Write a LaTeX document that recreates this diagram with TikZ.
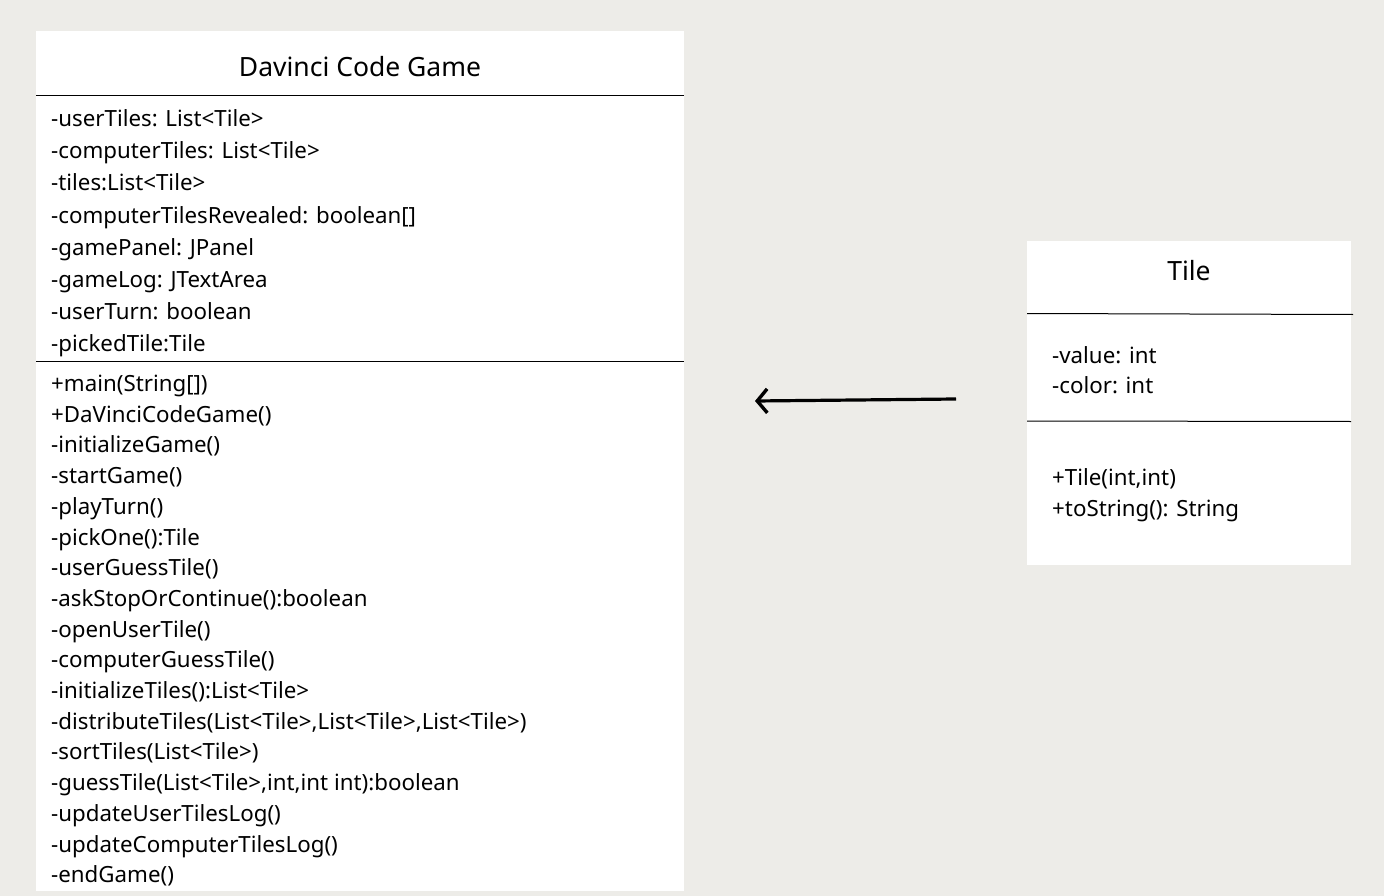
\documentclass[tikz,border=0pt]{standalone}
\usepackage{fontspec}
\setmainfont{Noto Sans}
\usetikzlibrary{arrows.meta}
\definecolor{bgc}{RGB}{237,236,232}
\tikzset{
  box/.style={fill=white,draw=none,anchor=north west,inner sep=0pt,outer sep=0pt},
  divider/.style={draw=black,line width=1pt},
  mem/.style={anchor=base west,inner sep=0pt,font=\fontsize{22.3}{26}\selectfont},
  ttl/.style={anchor=base,inner sep=0pt,font=\fontsize{26.5}{30}\selectfont},
  assoc/.style={line width=3.2pt,-{Straight Barb[length=10pt,width=24pt,line width=3.4pt]}}
}
\begin{document}
\begin{tikzpicture}[x=1pt,y=-1pt]
\fill[bgc] (0,0) rectangle (1384,896);
\useasboundingbox (0,0) rectangle (1384,896);
% main class
\node[box,minimum width=648pt,minimum height=860pt] (game) at (36,31) {};
\node[ttl] (gtitle) at (360,77) {Davinci Code Game};
\draw[divider] (game.north west |- 0,95.5) coordinate (g1a) -- (game.north east |- 0,95.5) coordinate (g1b);
\draw[divider] (game.north west |- 0,361.5) coordinate (g2a) -- (game.north east |- 0,361.5) coordinate (g2b);
\foreach \t [count=\i from 0] in {{-userTiles: List<Tile>},{-computerTiles: List<Tile>},{-tiles:List<Tile>},{-computerTilesRevealed: boolean[]},{-gamePanel: JPanel},{-gameLog: JTextArea},{-userTurn: boolean},{-pickedTile:Tile}}
  \node[mem] (ga\i) at (51,{127+32*\i}) {\t};
\foreach \t [count=\i from 0] in {{+main(String[])},{+DaVinciCodeGame()},{-initializeGame()},{-startGame()},{-playTurn()},{-pickOne():Tile},{-userGuessTile()},{-askStopOrContinue():boolean},{-openUserTile()},{-computerGuessTile()},{-initializeTiles():List<Tile>},{-distributeTiles(List<Tile>,List<Tile>,List<Tile>)},{-sortTiles(List<Tile>)},{-guessTile(List<Tile>,int,int int):boolean},{-updateUserTilesLog()},{-updateComputerTilesLog()},{-endGame()}}
  \node[mem] (gm\i) at (51,{391.5+30.7*\i}) {\t};
% Tile class
\node[box,minimum width=324pt,minimum height=324pt] (tile) at (1027,241) {};
\node[ttl] (ttitle) at (1189,280) {Tile};
\draw[divider] (tile.north west |- 0,313.5) coordinate (t1a) -- (1353,314.5) coordinate (t1b);
\draw[divider] (tile.north west |- 0,421) coordinate (t2a) -- (tile.north east |- 0,421.5) coordinate (t2b);
\node[mem] (ta0) at (1052,363.5) {-value: int};
\node[mem] (ta1) at (1052,393.5) {-color: int};
\node[mem] (tm0) at (1052,485.5) {+Tile(int,int)};
\node[mem] (tm1) at (1052,516.5) {+toString(): String};
% association arrow
\coordinate (arrS) at (956,399);
\coordinate (arrE) at (755,401);
\draw[assoc] (arrS) -- (arrE);
\end{tikzpicture}
\end{document}
